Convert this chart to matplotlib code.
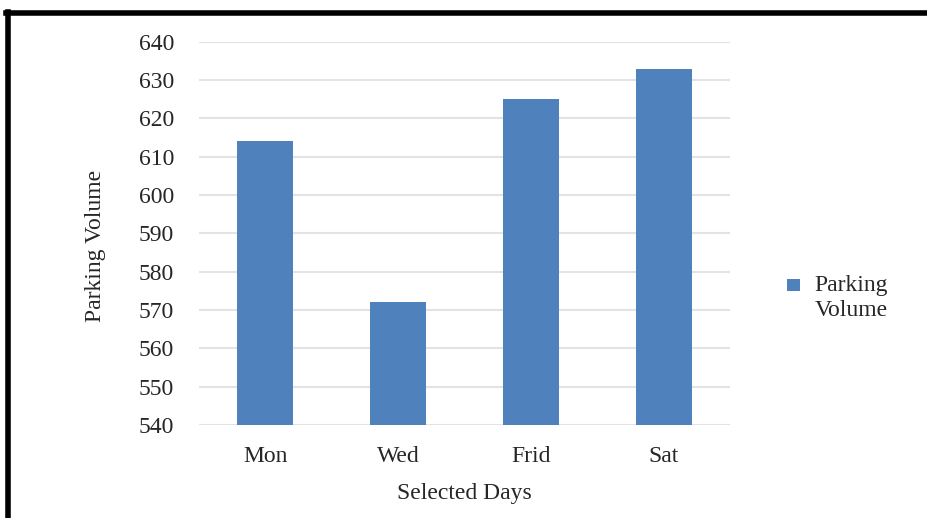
import matplotlib
matplotlib.use("Agg")
import matplotlib.pyplot as plt
from matplotlib.lines import Line2D
from matplotlib.patches import Rectangle

days = ["Mon", "Wed", "Frid", "Sat"]
parking_volume = [614, 572, 625, 633]
series_name = ["Parking", "Volume"]
y_ticks = [540, 550, 560, 570, 580, 590, 600, 610, 620, 630, 640]

plt.rcParams['font.family'] = ['Liberation Serif', 'DejaVu Serif']

fig = plt.figure(figsize=(9.28, 5.18), dpi=100)
ax = fig.add_axes([199/928, 1-425/518, (730-199)/928, (425-41.7)/518])

bar_color = '#4F81BD'
text_color = '#262626'
ax.bar(range(len(days)), parking_volume, width=0.42, color=bar_color, zorder=3)
ax.set_xlim(-0.5, len(days)-0.5)
ax.set_ylim(540, 640)
ax.set_yticks(y_ticks)
ax.set_xticks(range(len(days)))
ax.set_xticklabels(days)
ax.tick_params(axis='both', length=0, labelsize=17, colors=text_color)
ax.tick_params(axis='y', pad=18)
ax.tick_params(axis='x', pad=15)
ax.grid(axis='y', color='#e3e3e3', linewidth=1.5, zorder=0)
for s in ax.spines.values():
    s.set_visible(False)

ax.set_xlabel("Selected Days", fontsize=17, color=text_color, labelpad=12)
ax.set_ylabel("Parking Volume", fontsize=17, color=text_color)
ax.yaxis.set_label_coords(-0.175, 0.467)

# legend (drawn manually to match two-line label layout)
fig.add_artist(Rectangle((787/928, 1-291/518), 13/928, 12/518, transform=fig.transFigure,
                         facecolor=bar_color, edgecolor='none'))
fig.text(851/928, 1-285/518, series_name[0], ha='center', va='center', fontsize=17, color=text_color)
fig.text(851/928, 1-311/518, series_name[1], ha='center', va='center', fontsize=17, color=text_color)

# figure border (left and top only)
fig.add_artist(Line2D([8.5/928, 8.5/928], [0, 1-12/518], transform=fig.transFigure, color='black', linewidth=4))
fig.add_artist(Line2D([6.5/928, 1], [1-12.5/518, 1-12.5/518], transform=fig.transFigure, color='black', linewidth=4))

fig.savefig("out.png", dpi=100)
